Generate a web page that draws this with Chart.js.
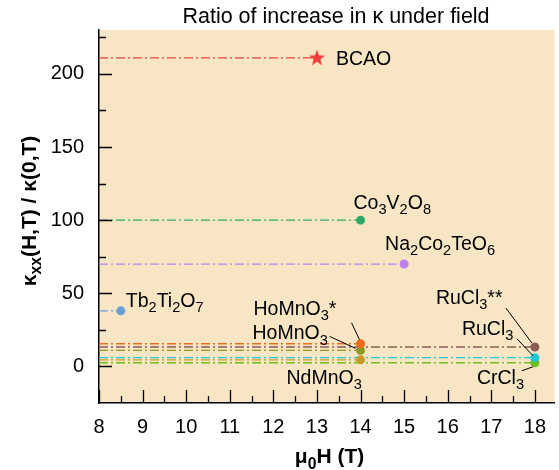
<!DOCTYPE html>
<html lang="en">
  <head>
    <meta charset="UTF-8" />
    <title>Ratio of increase in kappa</title>
    <style>
      body {
        margin: 0;
        background: #fff;
      }
      #chart {
        display: block;
      }
    </style>
  </head>
  <body>
    <canvas id="chart" width="559" height="470"></canvas>
    <script src="https://cdn.jsdelivr.net/npm/chart.js"></script>
    <script>
      // data
      const compounds = [
        "BCAO",
        "Co_3V_2O_8",
        "Na_2Co_2TeO_6",
        "Tb_2Ti_2O_7",
        "HoMnO_3*",
        "HoMnO_3",
        "NdMnO_3",
        "RuCl_3**",
        "RuCl_3",
        "CrCl_3",
      ];
      const fieldT = [13, 14, 15, 8.5, 14, 14, 14, 18, 18, 18];
      const ratio = [211, 100, 70, 38, 15.5, 11, 4.5, 13.3, 6, 2.5];
      const xTicks = [8, 9, 10, 11, 12, 13, 14, 15, 16, 17, 18];
      const yTicks = [0, 50, 100, 150, 200];

      const colors = [
        "#f0413f",
        "#2eaa68",
        "#bd80ee",
        "#6b9fd8",
        "#f26a1b",
        "#8a9a22",
        "#c99a26",
        "#8c5b5b",
        "#22c6d6",
        "#6cbf1e",
      ];
      // label offsets from the marker (text left, cap middle) and leader lines
      const labelPos = [
        { dx: 19, dy: 0 },
        { dx: -7, dy: -18 },
        { dx: -19, dy: -21 },
        { dx: 5, dy: -11 },
        { dx: -107, dy: -36, lead: [-9, -21, -1, -4] },
        { dx: -108, dy: -18, lead: [-31, -14, -5, -2] },
        { dx: -74, dy: 17 },
        { dx: -99, dy: -50, lead: [-29, -39, -3, -4] },
        { dx: -73, dy: -30, lead: [-18, -19, -2, -2] },
        { dx: -58, dy: 14, lead: [-13, 8, -2, 4] },
      ];

      const FONT = "'Liberation Sans', Arial, sans-serif";
      const BG = "#f8e5c3";

      // filled five point star for BCAO
      const star = document.createElement("canvas");
      star.width = 18;
      star.height = 18;
      (function () {
        const c = star.getContext("2d");
        c.beginPath();
        for (let i = 0; i < 10; i++) {
          const r = i % 2 === 0 ? 8.5 : 3.6;
          const a = -Math.PI / 2 + (i * Math.PI) / 5;
          c.lineTo(9 + r * Math.cos(a), 9.5 + r * Math.sin(a));
        }
        c.closePath();
        c.fillStyle = colors[0];
        c.fill();
      })();

      // draws text where "_" makes the next char a subscript
      function drawRich(ctx, str, x, y, size, weight) {
        weight = weight || "normal";
        let cx = x;
        let i = 0;
        while (i < str.length) {
          let seg = "";
          let sub = false;
          if (str[i] === "_") {
            sub = true;
            seg = str[i + 1];
            i += 2;
          } else {
            while (i < str.length && str[i] !== "_") seg += str[i++];
          }
          ctx.font = weight + " " + (sub ? size * 0.75 : size) + "px " + FONT;
          ctx.fillText(seg, cx, sub ? y + size * 0.27 : y);
          cx += ctx.measureText(seg).width;
        }
        return cx - x;
      }
      function richWidth(ctx, str, size, weight) {
        ctx.save();
        ctx.globalAlpha = 0;
        const w = drawRich(ctx, str, 0, 0, size, weight);
        ctx.restore();
        return w;
      }

      const datasets = compounds.map((name, i) => ({
        label: name,
        data: [
          { x: 8, y: ratio[i] },
          { x: fieldT[i], y: ratio[i] },
        ],
        borderColor: colors[i],
        backgroundColor: colors[i],
        borderWidth: 1.3,
        borderDash: [9, 3, 2, 3],
        pointRadius: (c) => (c.dataIndex === 1 ? 4.5 : 0),
        pointStyle: i === 0 ? star : "circle",
        pointBorderWidth: 0,
        clip: false,
      }));

      const frame = {
        id: "frame",
        beforeDraw(chart) {
          const { ctx, chartArea: a } = chart;
          ctx.save();
          ctx.fillStyle = BG;
          ctx.fillRect(a.left, a.top, a.right - a.left, a.bottom - a.top);
          ctx.restore();
        },
        afterDraw(chart) {
          const { ctx, chartArea: a } = chart;
          const xs = chart.scales.x;
          const ys = chart.scales.y;
          ctx.save();
          // inward ticks
          ctx.strokeStyle = "#000";
          ctx.lineWidth = 1.3;
          ctx.beginPath();
          for (let v = 8; v <= 18.01; v += 0.5) {
            const px = Math.round(xs.getPixelForValue(v)) + 0.5;
            const len = Number.isInteger(v) ? 13 : 7;
            ctx.moveTo(px, a.bottom);
            ctx.lineTo(px, a.bottom - len);
          }
          for (let v = 0; v <= 225; v += 25) {
            const py = Math.round(ys.getPixelForValue(v)) + 0.5;
            const len = v % 50 === 0 ? 13 : 7;
            ctx.moveTo(a.left, py);
            ctx.lineTo(a.left + len, py);
          }
          ctx.stroke();

          // labels
          ctx.fillStyle = "#000";
          ctx.textBaseline = "alphabetic";
          compounds.forEach((name, i) => {
            const px = xs.getPixelForValue(fieldT[i]);
            const py = ys.getPixelForValue(ratio[i]);
            const p = labelPos[i];
            drawRich(ctx, name, px + p.dx, py + p.dy + 7, 19.5);
            if (p.lead) {
              ctx.lineWidth = 1;
              ctx.beginPath();
              ctx.moveTo(px + p.lead[0], py + p.lead[1]);
              ctx.lineTo(px + p.lead[2], py + p.lead[3]);
              ctx.stroke();
            }
          });

          // title
          ctx.font = "21.5px " + FONT;
          ctx.textAlign = "center";
          ctx.fillText("Ratio of increase in κ under field", 336, 23);
          ctx.textAlign = "left";

          // axis titles
          const xt = "μ_0H (T)";
          const xw = richWidth(ctx, xt, 21, "bold");
          drawRich(ctx, xt, 329.5 - xw / 2, 463, 21, "bold");

          const yt = "κ_x_x(H,T) / κ(0,T)";
          const yw = richWidth(ctx, yt, 21, "bold");
          ctx.translate(28, 211);
          ctx.rotate(-Math.PI / 2);
          drawRich(ctx, yt, -yw / 2, 7.5, 21, "bold");
          ctx.restore();
        },
      };

      new Chart(document.getElementById("chart"), {
        type: "line",
        data: { datasets: datasets },
        options: {
          responsive: false,
          animation: false,
          layout: { padding: { top: 30, right: 0, left: 0, bottom: 0 } },
          plugins: {
            legend: { display: false },
            title: { display: false },
            tooltip: { enabled: false },
          },
          scales: {
            x: {
              type: "linear",
              min: 8,
              max: 18.45,
              grid: { display: false, drawTicks: false },
              border: { display: true, color: "#000", width: 1.5 },
              afterBuildTicks: (s) => {
                s.ticks = xTicks.map((v) => ({ value: v }));
              },
              afterFit: (s) => {
                s.height = 67;
              },
              ticks: {
                padding: 12,
                color: "#000",
                maxRotation: 0,
                font: { family: FONT, size: 20 },
              },
            },
            y: {
              type: "linear",
              min: -25,
              max: 230,
              grid: { display: false, drawTicks: false },
              border: { display: true, color: "#000", width: 1.5 },
              afterBuildTicks: (s) => {
                s.ticks = yTicks.map((v) => ({ value: v }));
              },
              afterFit: (s) => {
                s.width = 99;
              },
              ticks: {
                padding: 15,
                color: "#000",
                font: { family: FONT, size: 20 },
              },
            },
          },
        },
        plugins: [frame],
      });
    </script>
  </body>
</html>
